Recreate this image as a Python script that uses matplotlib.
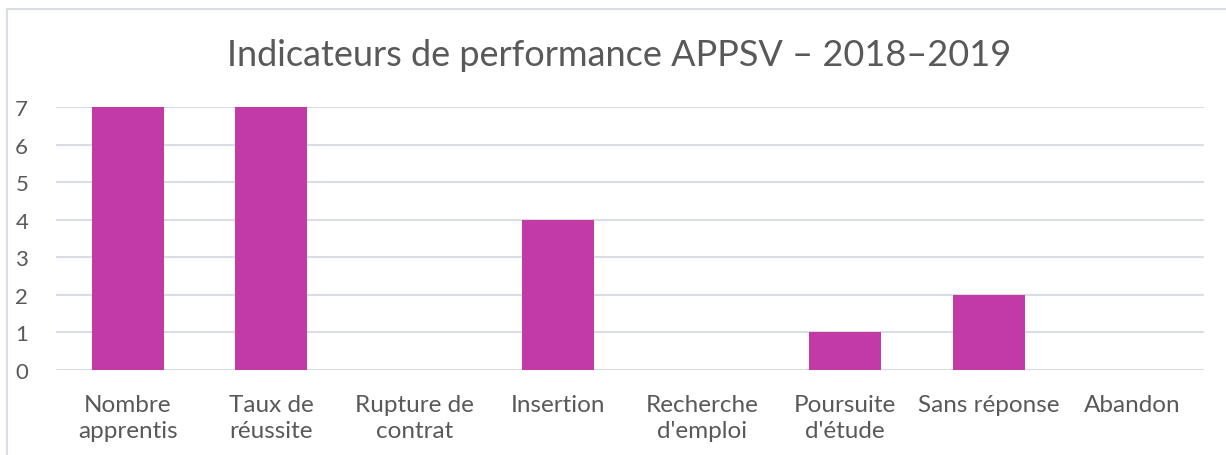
import matplotlib.pyplot as plt
from matplotlib.patches import Rectangle

categories = ["Nombre\napprentis", "Taux de\nréussite", "Rupture de\ncontrat", "Insertion",
              "Recherche\nd'emploi", "Poursuite\nd'étude", "Sans réponse", "Abandon"]
values = [7, 7, 0, 4, 0, 1, 2, 0]

plt.rcParams['font.family'] = ['Lato', 'DejaVu Sans']
text_color = "#595959"
grid_color = "#D9DEE6"

fig = plt.figure(figsize=(12.26, 4.56), dpi=100)
# chart frame
fig.patches.append(Rectangle((7 / 1226, -0.1), 1.2, 1 - 10 / 456 + 0.1,
                             transform=fig.transFigure, fill=False,
                             edgecolor=grid_color, linewidth=1.5))

ax = fig.add_axes([56 / 1226, 1 - 371 / 456, (1204 - 56) / 1226, (371 - 108) / 456])
x = range(len(categories))
ax.bar(x, values, width=0.5, color="#C13AA5", zorder=3)
ax.set_xlim(-0.5, len(categories) - 0.5)
ax.set_ylim(0, 7)
ax.set_yticks(range(8))
ax.yaxis.grid(True, color=grid_color, linewidth=1.5, zorder=0)
for s in ax.spines.values():
    s.set_visible(False)
ax.set_xticks(list(x))
ax.set_xticklabels(categories, fontsize=17.5, color=text_color, linespacing=1.3)
ax.tick_params(axis='x', length=0, pad=17)
ax.tick_params(axis='y', length=0, pad=20, labelsize=16, labelcolor=text_color)

fig.text(0.505, 1 - 55 / 456, "Indicateurs de performance APPSV – 2018–2019",
         ha='center', va='center', fontsize=26, color=text_color)

fig.savefig("out.png", dpi=100)
